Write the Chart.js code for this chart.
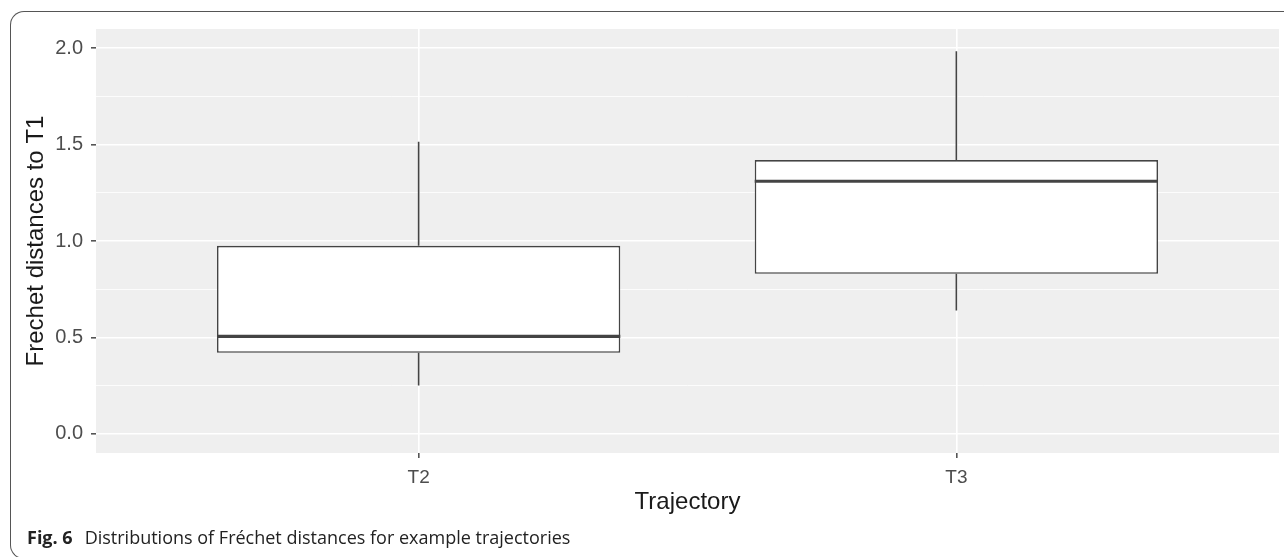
<!DOCTYPE html>
<html>
<head>
<meta charset="utf-8">
<script src="https://cdn.jsdelivr.net/npm/chart.js@4.4.1/dist/chart.umd.min.js"></script>
<style>
  html, body { margin: 0; padding: 0; background: #fff; }
  body { width: 1284px; height: 557px; position: relative; overflow: hidden; }
  #frame {
    position: absolute; left: 10px; top: 11px; width: 1300px; height: 546px;
    border: 1.5px solid #555; border-right: none; border-radius: 14px 0 0 14px;
  }
  #wrap { position: absolute; left: 0; top: 0; width: 1284px; height: 557px; }
  #caption {
    position: absolute; left: 27px; top: 525px;
    font-family: "Open Sans", sans-serif; font-size: 18px; color: #222; white-space: nowrap;
  }
  #caption b { margin-right: 12px; }
</style>
</head>
<body>
<div id="frame"></div>
<div id="wrap"><canvas id="chart" width="1284" height="557"></canvas></div>
<div id="caption"><b>Fig. 6</b>Distributions of Fréchet distances for example trajectories</div>
<script>
// Box plot values
const categories = ['T2', 'T3'];
const whiskerLow = [0.25, 0.64];
const q1 = [0.42, 0.83];
const median = [0.505, 1.31];
const q3 = [0.975, 1.42];
const whiskerHigh = [1.515, 1.985];

// Axis ticks
const yMajorTicks = [0, 0.5, 1, 1.5, 2];
const yMinorTicks = [0.25, 0.75, 1.25, 1.75];

let boxData = categories.map((c, i) => ({ x: i + 1, y: [q1[i], q3[i]] }));

// grey panel behind the grid
const panelBackground = {
    id: 'panelBackground',
    beforeDraw(chart) {
        let a = chart.chartArea;
        let ctx = chart.ctx;
        ctx.save();
        ctx.fillStyle = '#EFEFEF';
        ctx.fillRect(a.left, a.top, a.right - a.left, a.bottom - a.top);
        ctx.restore();
    }
};

// whiskers and medians, positioned with the chart scales
const boxExtras = {
    id: 'boxExtras',
    afterDatasetsDraw(chart) {
        let ctx = chart.ctx;
        let xs = chart.scales.x;
        let ys = chart.scales.y;
        let bars = chart.getDatasetMeta(0).data;
        ctx.save();
        ctx.strokeStyle = '#444444';
        ctx.lineCap = 'butt';
        categories.forEach((c, i) => {
            let x = xs.getPixelForValue(i + 1);
            ctx.lineWidth = 1.6;
            ctx.beginPath();
            ctx.moveTo(x, ys.getPixelForValue(whiskerHigh[i]));
            ctx.lineTo(x, ys.getPixelForValue(q3[i]));
            ctx.moveTo(x, ys.getPixelForValue(q1[i]));
            ctx.lineTo(x, ys.getPixelForValue(whiskerLow[i]));
            ctx.stroke();
            let half = bars[i].width / 2;
            let ym = ys.getPixelForValue(median[i]);
            ctx.lineWidth = 3.2;
            ctx.beginPath();
            ctx.moveTo(x - half, ym);
            ctx.lineTo(x + half, ym);
            ctx.stroke();
        });
        ctx.restore();
    }
};

let ctx = document.getElementById('chart').getContext('2d');
new Chart(ctx, {
    type: 'bar',
    data: {
        datasets: [{
            data: boxData,
            backgroundColor: '#FFFFFF',
            borderColor: '#444444',
            borderWidth: 1.6,
            borderSkipped: false,
            barPercentage: 0.75,
            categoryPercentage: 1
        }]
    },
    options: {
        responsive: false,
        animation: false,
        events: [],
        layout: { padding: { left: 0, top: 29, right: 5, bottom: 0 } },
        plugins: { legend: { display: false }, tooltip: { enabled: false } },
        scales: {
            x: {
                type: 'linear',
                min: 0.4,
                max: 2.6,
                offset: false,
                afterBuildTicks: (s) => { s.ticks = categories.map((c, i) => ({ value: i + 1 })); },
                afterFit: (s) => { s.height = 104; },
                border: { display: false },
                grid: { offset: false, color: '#FFFFFF', lineWidth: 1.6, tickLength: 5, tickColor: '#555' },
                ticks: {
                    padding: 8,
                    color: '#4D4D4D',
                    font: { family: 'Liberation Sans', size: 19 },
                    maxRotation: 0,
                    callback: (v) => categories[Math.round(v) - 1] || ''
                },
                title: {
                    display: true,
                    text: 'Trajectory',
                    color: '#1A1A1A',
                    font: { family: 'Liberation Sans', size: 24 },
                    padding: { top: 0, bottom: 40 }
                }
            },
            y: {
                min: -0.1,
                max: 2.1,
                afterBuildTicks: (s) => {
                    s.ticks = yMajorTicks.concat(yMinorTicks).sort((a, b) => a - b).map(v => ({ value: v }));
                },
                afterFit: (s) => { s.width = 96; },
                border: { display: false },
                grid: {
                    color: '#FFFFFF',
                    lineWidth: (c) => yMajorTicks.includes(c.tick.value) ? 1.6 : 0.8,
                    tickLength: 5,
                    tickColor: (c) => yMajorTicks.includes(c.tick.value) ? '#555' : 'rgba(0,0,0,0)'
                },
                ticks: {
                    padding: 8,
                    color: '#4D4D4D',
                    font: { family: 'Liberation Sans', size: 20 },
                    callback: (v) => yMajorTicks.includes(v) ? v.toFixed(1) : ''
                },
                title: {
                    display: true,
                    text: 'Frechet distances to T1',
                    color: '#1A1A1A',
                    font: { family: 'Liberation Sans', size: 24 },
                    padding: { top: 22, bottom: 0 }
                }
            }
        }
    },
    plugins: [panelBackground, boxExtras]
});
</script>
</body>
</html>
